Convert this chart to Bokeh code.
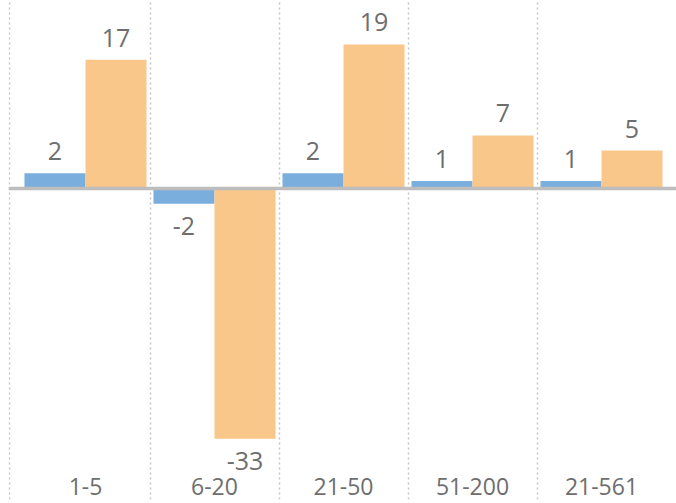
from bokeh.plotting import figure
from bokeh.models import Range1d, FixedTicker, Span, ColumnDataSource
from bokeh.transform import dodge
from bokeh.embed import file_html
from bokeh.resources import INLINE
from bokeh.core.properties import value

categories = ["1-5", "6-20", "21-50", "51-200", "21-561"]
series_blue = [2, -2, 2, 1, 1]
series_orange = [17, -33, 19, 7, 5]

BLUE = "#7aaedc"
ORANGE = "#fac78a"
TEXT = "#6e6e6e"
FONT = "Open Sans"

idx = list(range(len(categories)))
src = ColumnDataSource(dict(
    x=idx,
    blue=series_blue,
    orange=series_orange,
    blue_lbl=[str(v) for v in series_blue],
    orange_lbl=[str(v) for v in series_orange],
    blue_off=[-22 if v >= 0 else 22 for v in series_blue],
    orange_off=[-22 if v >= 0 else 22 for v in series_orange],
))

W, H = 676, 503
LEFT = 8
BOTTOM = 4
STANDOFF = -28
frame_w = W - LEFT
frame_h = H - BOTTOM
px_x = 129.0
x_start = -77.0 / px_x
x_end = x_start + frame_w / px_x
px_y = 7.58
y_end = 188.0 / px_y
y_start = -(frame_h - 188.0) / px_y

p = figure(width=W, height=H, output_backend="svg", toolbar_location=None,
           x_range=Range1d(x_start, x_end), y_range=Range1d(y_start, y_end),
           min_border=0, min_border_left=LEFT, min_border_right=0,
           min_border_top=0, min_border_bottom=BOTTOM)
p.outline_line_color = None
p.background_fill_color = "white"
p.border_fill_color = "white"

p.yaxis.visible = False
p.ygrid.visible = False

xa = p.xaxis[0]
xa.ticker = FixedTicker(ticks=idx)
xa.major_label_overrides = {i: c for i, c in zip(idx, categories)}
xa.major_label_text_font = FONT
xa.major_label_text_font_size = "23px"
xa.major_label_text_color = TEXT
xa.axis_line_color = None
xa.major_tick_line_color = None
xa.minor_tick_line_color = None
xa.major_label_standoff = STANDOFF

p.xgrid.ticker = FixedTicker(ticks=[x_start + 0.004, 0.5, 1.5, 2.5, 3.5])
p.xgrid.grid_line_color = "#c4c4c4"
p.xgrid.grid_line_dash = "2 3"
p.xgrid.grid_line_width = 1.5

bw = 0.473
p.vbar(x=dodge("x", -bw / 2, range=p.x_range), top="blue", bottom=0, width=bw,
       source=src, fill_color=BLUE, line_color=None)
p.vbar(x=dodge("x", bw / 2, range=p.x_range), top="orange", bottom=0, width=bw,
       source=src, fill_color=ORANGE, line_color=None)

p.add_layout(Span(location=0, dimension="width", line_color="#bdbdbd", line_width=3.5))

p.text(x=dodge("x", -bw / 2, range=p.x_range), y="blue", text="blue_lbl", source=src,
       y_offset="blue_off", text_align="center", text_baseline="middle",
       text_font=value(FONT), text_font_size="25px", text_color=TEXT)
p.text(x=dodge("x", bw / 2, range=p.x_range), y="orange", text="orange_lbl", source=src,
       y_offset="orange_off", text_align="center", text_baseline="middle",
       text_font=value(FONT), text_font_size="25px", text_color=TEXT)

open("out.html", "w").write(file_html(p, INLINE))
